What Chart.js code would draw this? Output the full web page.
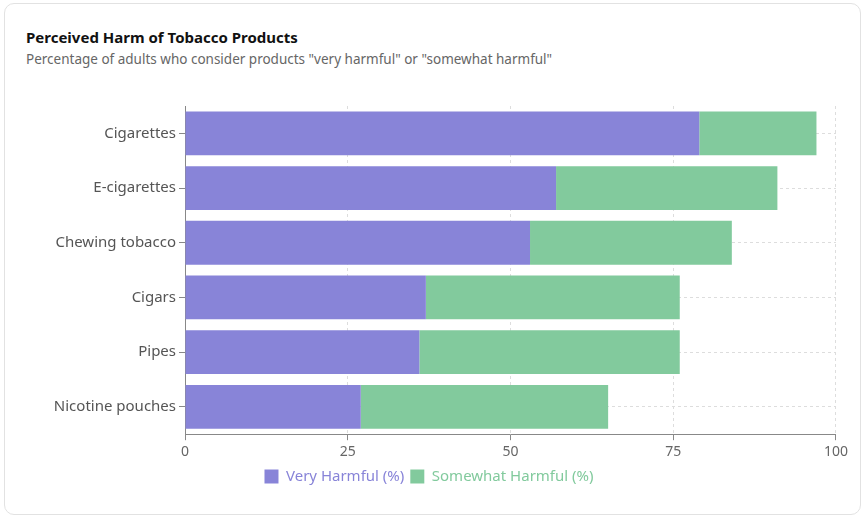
<!DOCTYPE html>
<html><head><meta charset="utf-8">
<script src="https://cdn.jsdelivr.net/npm/chart.js@4"></script>
<style>
body{margin:0;background:#fff;font-family:"Noto Sans",sans-serif;}
.card{position:absolute;left:4px;top:3px;width:857px;height:512px;border:1px solid #e2e2e2;border-radius:10px;box-sizing:border-box;}
h1{position:absolute;left:21px;top:23px;margin:0;font-size:15px;font-weight:700;color:#111;}
p{position:absolute;left:21px;top:46px;margin:0;font-size:13.5px;color:#666;}
.wrap{position:absolute;left:16px;top:90px;width:830px;height:400px;}
</style></head><body>
<div class="card">
<h1>Perceived Harm of Tobacco Products</h1>
<p>Percentage of adults who consider products "very harmful" or "somewhat harmful"</p>
<div class="wrap"><canvas id="c"></canvas></div>
</div>
<script>
const products = ['Cigarettes', 'E-cigarettes', 'Chewing tobacco', 'Cigars', 'Pipes', 'Nicotine pouches'];
const veryHarmful = [79, 57, 53, 37, 36, 27];
const somewhatHarmful = [18, 34, 31, 39, 40, 38];

new Chart(document.getElementById('c'), {
  type: 'bar',
  data: {
    labels: products,
    datasets: [
      { label: 'Very Harmful (%)', data: veryHarmful, backgroundColor: '#8884d8', barPercentage: 0.8, categoryPercentage: 1 },
      { label: 'Somewhat Harmful (%)', data: somewhatHarmful, backgroundColor: '#82ca9d', barPercentage: 0.8, categoryPercentage: 1 },
    ],
  },
  options: {
    indexAxis: 'y', responsive: true, maintainAspectRatio: false, animation: false,
    layout: { padding: { right: 14 } },
    scales: {
      x: { stacked: true, min: 0, max: 100, ticks: { stepSize: 25, color: '#666', font: { family: 'Noto Sans', size: 14 } },
           grid: { color: '#ddd', tickColor: '#888', tickLength: 6 }, border: { color: '#888', dash: [3, 3] } },
      y: { stacked: true, ticks: { color: '#555', font: { family: 'Noto Sans', size: 15 } },
           afterFit: (s) => { s.width = 164; },
           grid: { offset: false, color: '#ddd', tickColor: '#888', tickLength: 6 }, border: { color: '#888', dash: [3, 3] } },
    },
    plugins: {
      legend: { position: 'bottom', labels: { boxWidth: 14, boxHeight: 14, padding: 6, font: { family: 'Noto Sans', size: 15 },
        generateLabels: (ch) => ch.data.datasets.map((d, i) => ({ text: d.label, fillStyle: d.backgroundColor, strokeStyle: d.backgroundColor, fontColor: d.backgroundColor, lineWidth: 0, datasetIndex: i })) } },
      tooltip: { enabled: false },
    },
  },
});
</script>
</body></html>
